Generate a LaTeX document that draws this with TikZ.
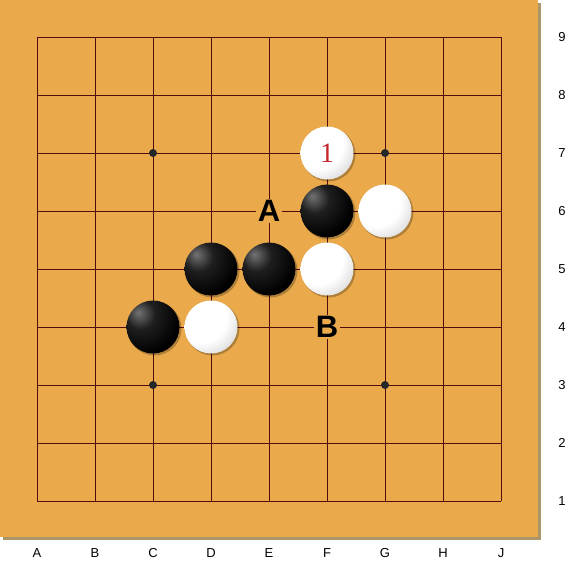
\documentclass[tikz,border=0pt]{standalone}
\usepackage{fontspec}
\setmainfont{Liberation Sans}
\newfontfamily\numfont{Liberation Serif}
\definecolor{wood}{RGB}{234,170,76}
\definecolor{woodshadow}{RGB}{170,150,105}
\definecolor{gridcol}{RGB}{80,12,16}
\definecolor{numred}{RGB}{196,38,44}
\pgfdeclareradialshading{blackstone}{\pgfpoint{-14bp}{14bp}}{color(0bp)=(black!55); color(14bp)=(black!88); color(34bp)=(black); color(100bp)=(black)}
\pgfdeclareradialshading{whitestone}{\pgfpoint{-12bp}{12bp}}{color(0bp)=(white); color(24bp)=(white); color(48bp)=(black!25); color(64bp)=(black!45); color(100bp)=(black!45)}

\begin{document}
\begin{tikzpicture}[x=58pt,y=58pt,
    gridline/.style={gridcol,line width=0.9pt},
    stoneb/.style={circle,minimum size=53pt,inner sep=0pt,shade,shading=blackstone},
    stonew/.style={circle,minimum size=53pt,inner sep=0pt,shade,shading=whitestone},
    marklabel/.style={fill=wood,inner sep=1.5pt,font=\fontsize{31}{31}\selectfont\bfseries},
    coordlabel/.style={font=\fontsize{13}{13}\selectfont}]
  \useasboundingbox (-0.638,-1.155) rectangle (9.310,8.638);
  % board
  \fill[woodshadow] (-0.58,-0.672) rectangle (8.69,8.58);
  \fill[wood] (-0.638,-0.621) rectangle (8.638,8.638);
  \draw[gridline,step=1] (0,0) grid (8,8);
  \foreach \p in {(2,2),(6,2),(2,6),(6,6)}
    \fill[black!85] \p circle (4pt);
  % stones
  \foreach \p in {(5,6),(5,5),(6,5),(3,4),(4,4),(5,4),(2,3),(3,3)}
    \fill[black,opacity=0.25] \p ++(1.5pt,-1.5pt) circle (27pt);
  \node[stonew] (F7) at (5,6) {\numfont\fontsize{28}{28}\selectfont\color{numred}1};
  \node[stoneb] (F6) at (5,5) {};
  \node[stonew] (G6) at (6,5) {};
  \node[stoneb] (D5) at (3,4) {};
  \node[stoneb] (E5) at (4,4) {};
  \node[stonew] (F5) at (5,4) {};
  \node[stoneb] (C4) at (2,3) {};
  \node[stonew] (D4) at (3,3) {};
  % marks
  \node[marklabel] (A) at (4,5) {A};
  \node[marklabel] (B) at (5,3) {B};
  % coordinates
  \foreach \l [count=\i from 0] in {A,B,C,D,E,F,G,H,J}
    \node[coordlabel] (col\l) at (\i,-0.897) {\l};
  \foreach \r in {1,...,9}
    \node[coordlabel] (row\r) at (9.052,\r-1) {\r};
\end{tikzpicture}
\end{document}
